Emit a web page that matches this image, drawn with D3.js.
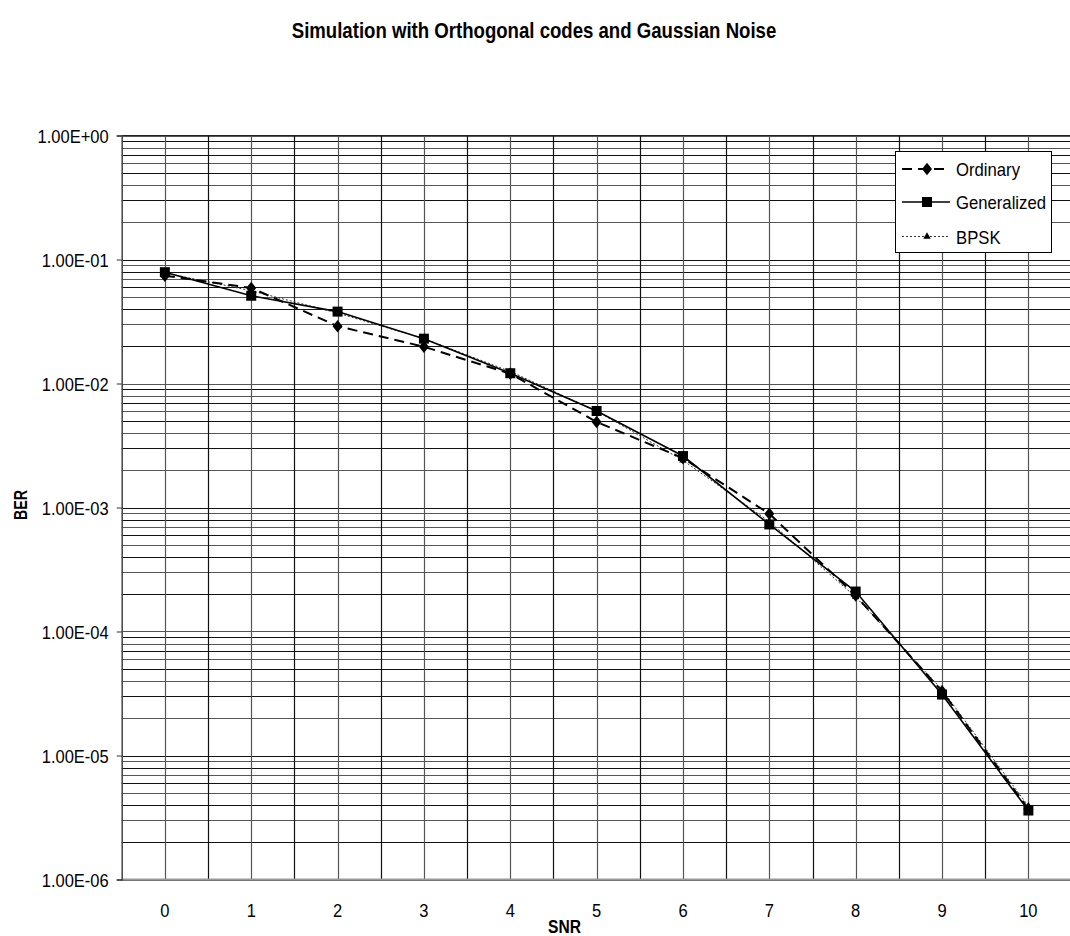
<!DOCTYPE html>
<html>
<head>
<meta charset="utf-8">
<script src="https://cdn.jsdelivr.net/npm/d3@7"></script>
<style>
  html, body { margin: 0; padding: 0; background: #fff; }
  svg { display: block; font-family: "Liberation Sans", Arial, sans-serif; }
</style>
</head>
<body>
<svg id="chart" width="1070" height="936"></svg>
<script>
// SNR points (dB)
const snr = [0, 1, 2, 3, 4, 5, 6, 7, 8, 9, 10];
// Bit error rates per scheme
const ordinary    = [0.074, 0.059, 0.029, 0.0198, 0.0120, 0.0049, 0.0025, 0.00089, 0.000195, 3.3e-5, 3.7e-6];
const generalized = [0.079, 0.051, 0.038, 0.023, 0.0121, 0.0060, 0.0026, 0.00073, 0.00021, 3.1e-5, 3.6e-6];
const bpsk        = [0.078, 0.056, 0.037, 0.023, 0.0125, 0.0060, 0.0024, 0.00077, 0.00019, 3.4e-5, 3.9e-6];
// Y axis decade ticks
const yTicks = [1, 1e-1, 1e-2, 1e-3, 1e-4, 1e-5, 1e-6];
const yTickLabels = ["1.00E+00", "1.00E-01", "1.00E-02", "1.00E-03", "1.00E-04", "1.00E-05", "1.00E-06"];

const svg = d3.select("#chart");
const plotLeft = 121.7, plotTop = 135.5, plotBottom = 879.5;
const band = 86.35;
const plotRight = plotLeft + band * snr.length;
const tall = 1.14; // text is drawn slightly taller than wide

const x = d3.scaleBand().domain(snr).range([plotLeft, plotRight]).paddingInner(0).paddingOuter(0);
const y = d3.scaleLog().domain([1e-6, 1]).range([plotBottom, plotTop]);
const cx = d => x(d) + x.bandwidth() / 2;

// Title
svg.append("text")
  .attr("transform", `translate(534,38) scale(1,${tall})`)
  .attr("text-anchor", "middle")
  .attr("font-weight", "bold").attr("font-size", 18.6)
  .text("Simulation with Orthogonal codes and Gaussian Noise");

const grid = svg.append("g");

// Horizontal grid: every 1..9 within each decade
const hLines = [];
for (let e = -6; e < 0; e++) {
  for (let m = 1; m <= 9; m++) hLines.push(m * Math.pow(10, e));
}
hLines.push(1);
grid.selectAll("line.h").data(hLines).join("line")
  .attr("class", "h")
  .attr("x1", plotLeft).attr("x2", 1070)
  .attr("y1", d => Math.round(y(d)) + 0.5).attr("y2", d => Math.round(y(d)) + 0.5)
  .attr("stroke", (d, i) => i % 2 ? "#111" : "#555")
  .attr("stroke-width", 1.2);

// Vertical grid: category centres and boundaries
const vPos = [];
snr.forEach(s => { vPos.push(x(s)); vPos.push(cx(s)); });
vPos.push(plotRight);
grid.selectAll("line.v").data(vPos.filter(v => v > plotLeft + 1)).join("line")
  .attr("class", "v")
  .attr("x1", d => Math.round(d) + 0.5).attr("x2", d => Math.round(d) + 0.5)
  .attr("y1", plotTop).attr("y2", plotBottom)
  .attr("stroke", (d, i) => i % 2 ? "#111" : "#555")
  .attr("stroke-width", 1.2);

// Plot frame
svg.append("line").attr("x1", plotLeft).attr("x2", 1070).attr("y1", plotBottom).attr("y2", plotBottom)
  .attr("stroke", "#999").attr("stroke-width", 2);
svg.append("line").attr("x1", plotLeft).attr("x2", 1070).attr("y1", plotTop).attr("y2", plotTop)
  .attr("stroke", "#222").attr("stroke-width", 1.2);

// Y axis
const yAxis = d3.axisLeft(y)
  .tickValues(yTicks)
  .tickFormat((d, i) => yTickLabels[i])
  .tickSize(5).tickPadding(8);
const gy = svg.append("g").attr("transform", `translate(${plotLeft},0)`).call(yAxis);
gy.select(".domain").attr("stroke", "#444").attr("stroke-width", 1.5);
gy.selectAll(".tick line").attr("stroke", "#333");
gy.selectAll(".tick text")
  .attr("x", 0).attr("y", 0).attr("dy", null)
  .attr("transform", `translate(-13,6.6) scale(1,${tall})`)
  .attr("font-size", 16.5).attr("fill", "#000")
  .attr("font-family", "Liberation Sans, Arial, sans-serif");

// X axis labels
const xAxis = d3.axisBottom(x).tickSize(0).tickPadding(0);
const gx = svg.append("g").attr("transform", `translate(0,${plotBottom})`).call(xAxis);
gx.select(".domain").remove();
gx.selectAll(".tick text")
  .attr("x", 0).attr("y", 0).attr("dy", null)
  .attr("transform", `translate(0,37.5) scale(1,${tall})`)
  .attr("font-size", 16.5).attr("fill", "#000")
  .attr("font-family", "Liberation Sans, Arial, sans-serif");

// Axis titles
svg.append("text")
  .attr("transform", `translate(564.5,933) scale(1,${tall})`)
  .attr("text-anchor", "middle").attr("font-weight", "bold").attr("font-size", 15.6)
  .text("SNR");
svg.append("text")
  .attr("transform", "translate(26.5,505) rotate(-90)")
  .attr("text-anchor", "middle").attr("font-weight", "bold").attr("font-size", 18.5)
  .attr("textLength", 30).attr("lengthAdjust", "spacingAndGlyphs")
  .text("BER");

// Marker shapes
const diamond = {
  draw(ctx, size) {
    const w = Math.sqrt(size) / 2, h = w * 1.25;
    ctx.moveTo(0, -h); ctx.lineTo(w, 0); ctx.lineTo(0, h); ctx.lineTo(-w, 0); ctx.closePath();
  }
};
const series = [
  { name: "Ordinary", values: ordinary, dash: "10,6", width: 2, color: "#000", marker: diamond, size: 100 },
  { name: "Generalized", values: generalized, dash: null, width: 1.6, color: "#000", marker: d3.symbolSquare, size: 100 },
  { name: "BPSK", values: bpsk, dash: "2,2", width: 1, color: "#333", marker: d3.symbolTriangle, size: 24 }
];

const line = d3.line().x((d, i) => cx(snr[i])).y(d => y(d));

// Draw BPSK first so the others sit on top
[series[2], series[0], series[1]].forEach(s => {
  svg.append("path")
    .datum(s.values)
    .attr("d", line)
    .attr("fill", "none")
    .attr("stroke", s.color)
    .attr("stroke-width", s.width)
    .attr("stroke-dasharray", s.dash);
  svg.append("g").selectAll("path").data(s.values).join("path")
    .attr("transform", (d, i) => `translate(${cx(snr[i])},${y(d)})`)
    .attr("d", d3.symbol().type(s.marker).size(s.size))
    .attr("fill", "#000");
});

// Legend
const lg = svg.append("g");
lg.append("rect").attr("x", 895.5).attr("y", 151.5).attr("width", 156).attr("height", 101)
  .attr("fill", "#fff").attr("stroke", "#000").attr("stroke-width", 1);
const legendY = [169, 202, 236.5];
series.forEach((s, i) => {
  const yy = legendY[i];
  lg.append("line").attr("x1", 902).attr("x2", 950).attr("y1", yy).attr("y2", yy)
    .attr("stroke", s.color).attr("stroke-width", s.width)
    .attr("stroke-dasharray", s.dash);
  lg.append("path").attr("transform", `translate(927,${yy})`)
    .attr("d", d3.symbol().type(s.marker).size(s.size))
    .attr("fill", "#000");
  lg.append("text").attr("transform", `translate(956,${yy + 7}) scale(1,${tall})`)
    .attr("font-size", 16.7).text(s.name);
});
</script>
</body>
</html>
